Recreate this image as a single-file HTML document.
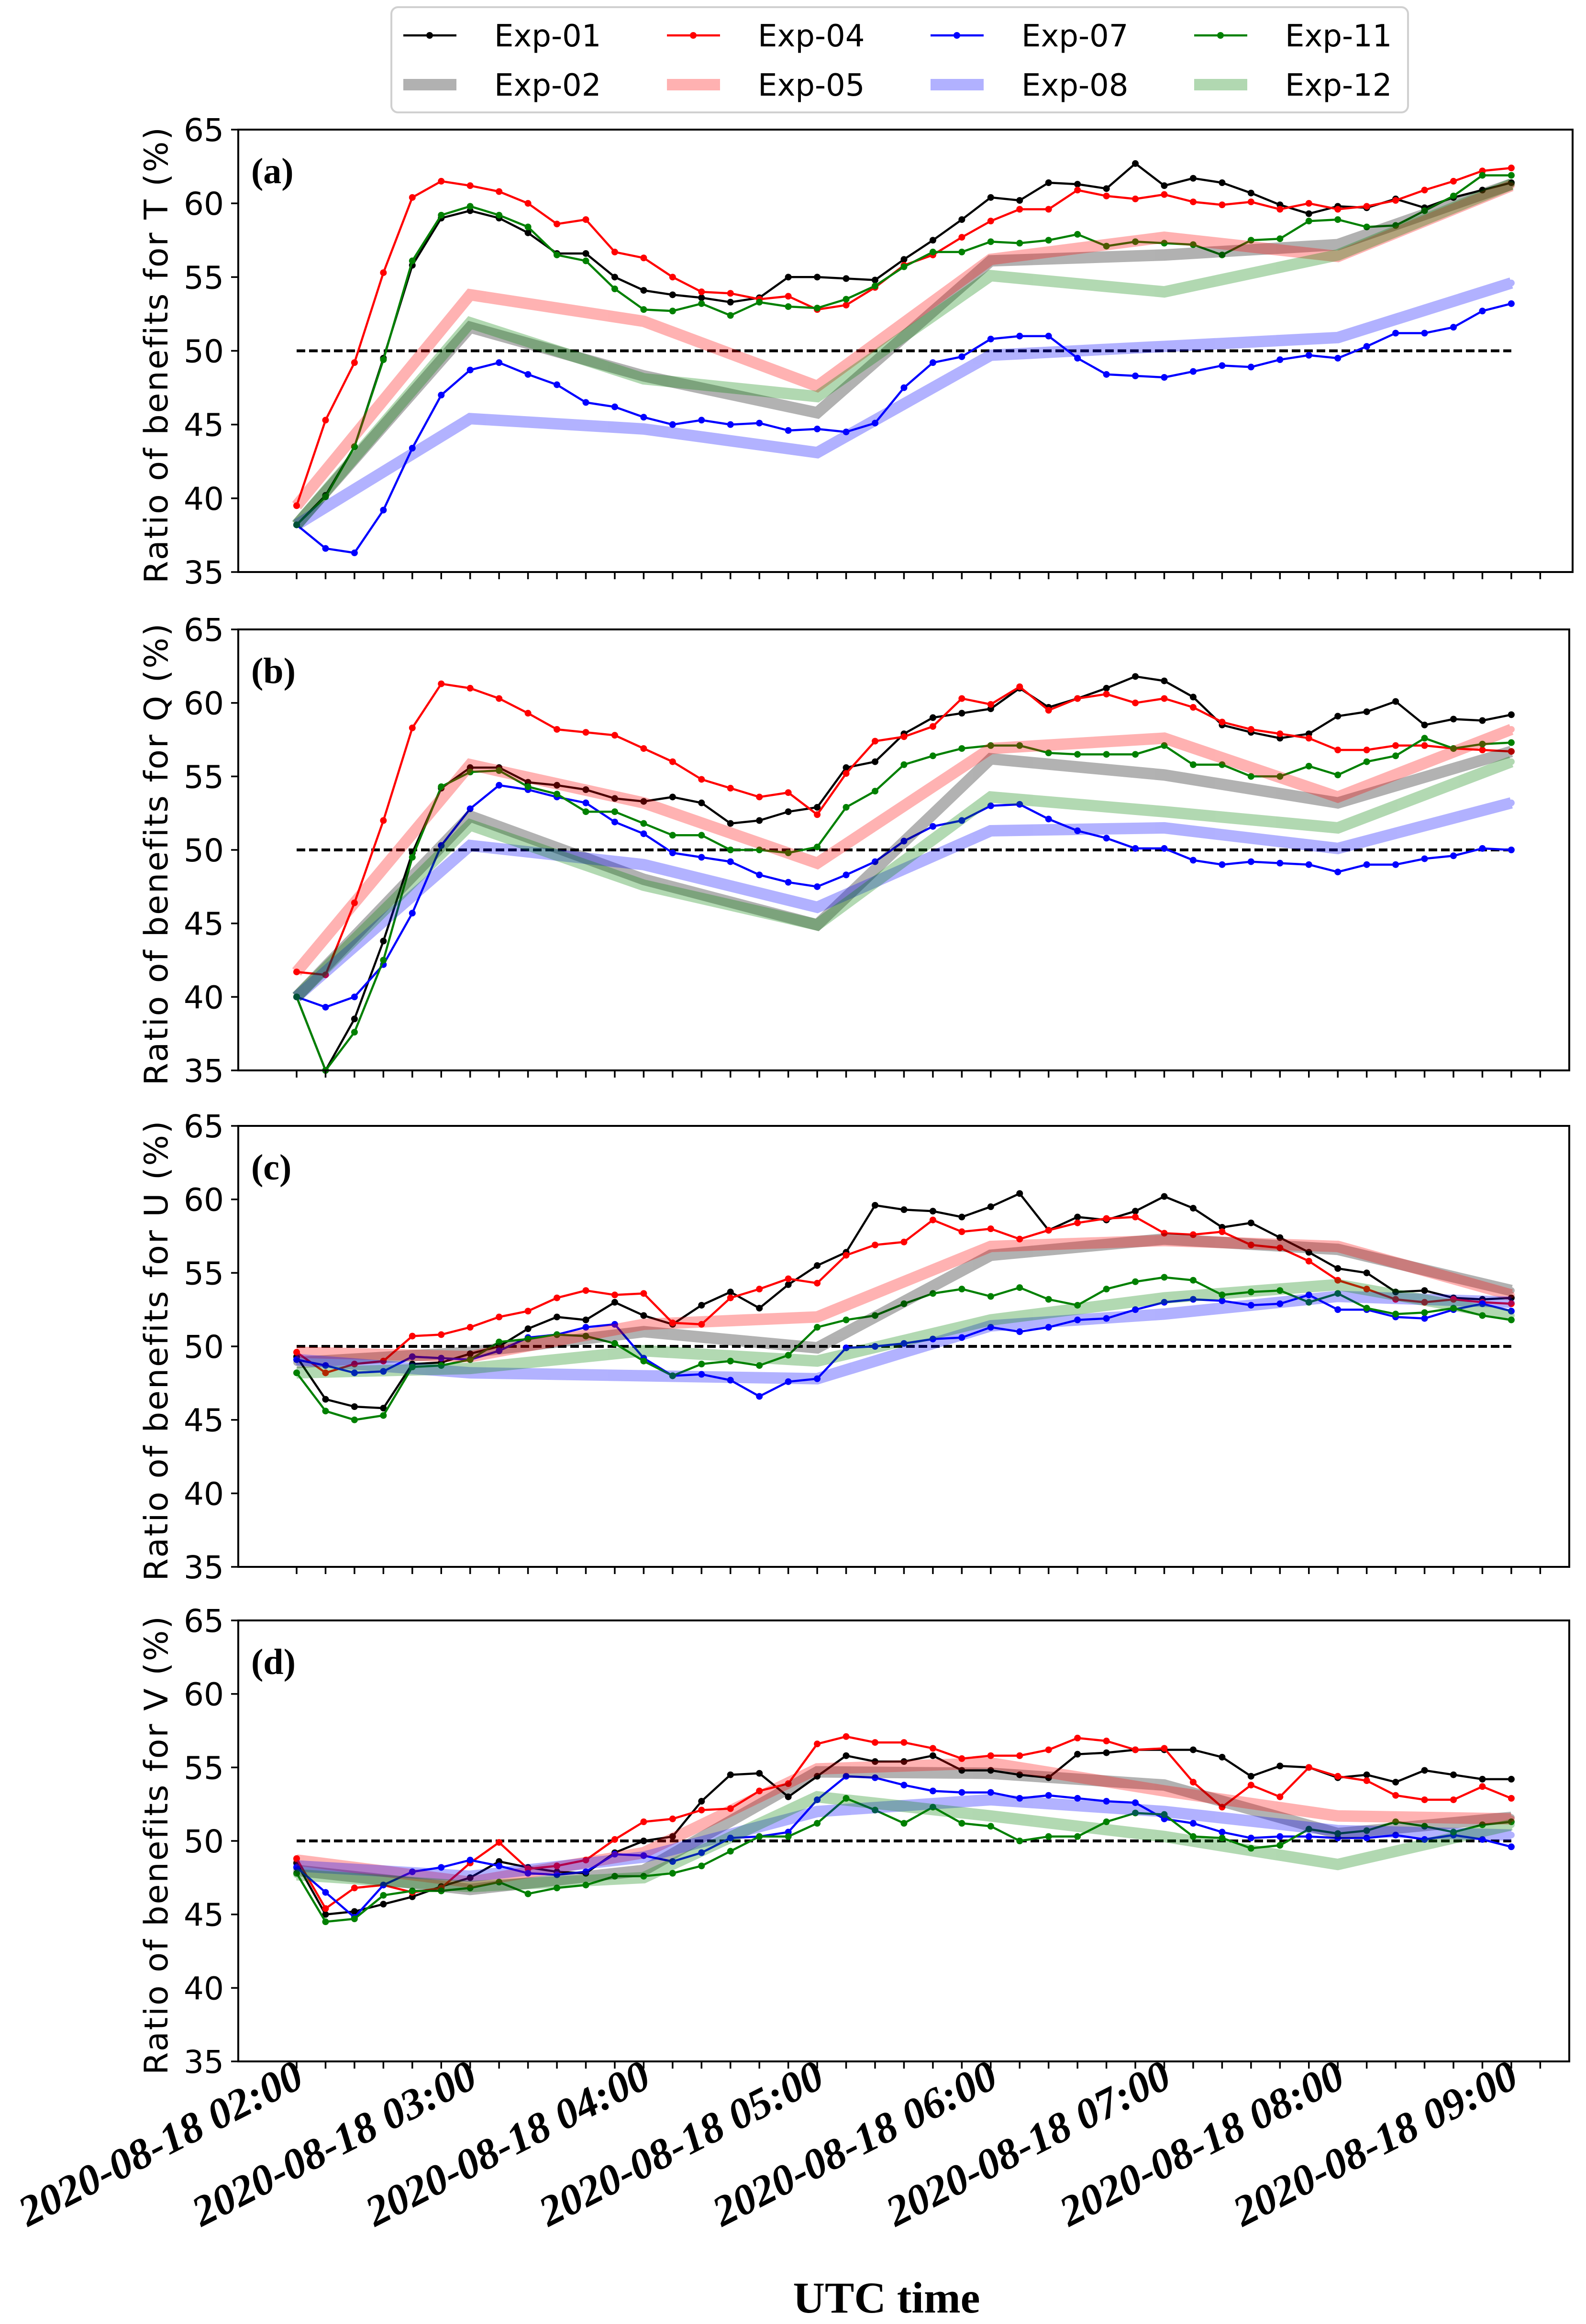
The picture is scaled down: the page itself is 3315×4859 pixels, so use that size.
<!DOCTYPE html>
<html><head><meta charset="utf-8"><style>
html,body{margin:0;padding:0;background:#fff;}
svg{display:block;}
</style></head><body>
<svg id="chart" xmlns="http://www.w3.org/2000/svg" width="3315" height="4859" viewBox="0 0 3315 4859">
<rect x="0" y="0" width="3315" height="4859" fill="#fff"/>
<g id="legend"></g>
<g id="plots"></g>
<text x="1853" y="4835" text-anchor="middle" font-family="Liberation Serif, serif" font-weight="bold" font-size="92">UTC time</text>
</svg>
<script>
// ---- data ----
const hourLabels = ["2020-08-18 02:00","2020-08-18 03:00","2020-08-18 04:00","2020-08-18 05:00","2020-08-18 06:00","2020-08-18 07:00","2020-08-18 08:00","2020-08-18 09:00"];
const yTicks = [35,40,45,50,55,60,65];
const panelLetters = ["(a)","(b)","(c)","(d)"];
const panelVars = ["T","Q","U","V"];

const exp01_T = [38.2,40.2,43.5,49.5,55.8,59.0,59.5,59.0,58.0,56.6,56.6,55.0,54.1,53.8,53.6,53.3,53.6,55.0,55.0,54.9,54.8,56.2,57.5,58.9,60.4,60.2,61.4,61.3,61.0,62.7,61.2,61.7,61.4,60.7,59.9,59.3,59.8,59.7,60.3,59.7,60.4,60.9,61.4];
const exp04_T = [39.5,45.3,49.2,55.3,60.4,61.5,61.2,60.8,60.0,58.6,58.9,56.7,56.3,55.0,54.0,53.9,53.5,53.7,52.8,53.1,54.3,55.8,56.5,57.7,58.8,59.6,59.6,60.9,60.5,60.3,60.6,60.1,59.9,60.1,59.6,60.0,59.6,59.8,60.2,60.9,61.5,62.2,62.4];
const exp07_T = [38.2,36.6,36.3,39.2,43.4,47.0,48.7,49.2,48.4,47.7,46.5,46.2,45.5,45.0,45.3,45.0,45.1,44.6,44.7,44.5,45.1,47.5,49.2,49.6,50.8,51.0,51.0,49.5,48.4,48.3,48.2,48.6,49.0,48.9,49.4,49.7,49.5,50.3,51.2,51.2,51.6,52.7,53.2];
const exp11_T = [38.2,40.1,43.5,49.4,56.1,59.2,59.8,59.2,58.4,56.5,56.1,54.2,52.8,52.7,53.2,52.4,53.3,53.0,52.9,53.5,54.4,55.7,56.7,56.7,57.4,57.3,57.5,57.9,57.1,57.4,57.3,57.2,56.5,57.5,57.6,58.8,58.9,58.4,58.5,59.5,60.5,61.9,61.9];
const exp02_T = [38.2,51.6,48.3,45.8,56.1,56.5,57.2,61.3];
const exp05_T = [39.5,53.8,52.0,47.6,56.2,57.7,56.4,61.2];
const exp08_T = [38.2,45.4,44.7,43.1,49.7,50.3,50.9,54.6];
const exp12_T = [38.2,51.9,48.1,46.9,55.1,54.0,56.5,61.3];

const exp01_Q = [40.0,35.0,38.5,43.8,49.8,54.2,55.6,55.6,54.6,54.4,54.1,53.5,53.3,53.6,53.2,51.8,52.0,52.6,52.9,55.6,56.0,57.9,59.0,59.3,59.6,61.0,59.7,60.3,61.0,61.8,61.5,60.4,58.5,58.0,57.6,57.9,59.1,59.4,60.1,58.5,58.9,58.8,59.2];
const exp04_Q = [41.7,41.5,46.4,52.0,58.3,61.3,61.0,60.3,59.3,58.2,58.0,57.8,56.9,56.0,54.8,54.2,53.6,53.9,52.4,55.2,57.4,57.7,58.4,60.3,59.9,61.1,59.5,60.3,60.6,60.0,60.3,59.7,58.7,58.2,57.9,57.6,56.8,56.8,57.1,57.1,56.9,56.8,56.7];
const exp07_Q = [40.0,39.3,40.0,42.2,45.7,50.3,52.8,54.4,54.1,53.6,53.2,51.9,51.1,49.8,49.5,49.2,48.3,47.8,47.5,48.3,49.2,50.6,51.6,52.0,53.0,53.1,52.1,51.3,50.8,50.1,50.1,49.3,49.0,49.2,49.1,49.0,48.5,49.0,49.0,49.4,49.6,50.1,50.0];
const exp11_Q = [40.0,35.0,37.6,42.5,49.5,54.3,55.3,55.4,54.3,53.8,52.6,52.6,51.8,51.0,51.0,50.0,50.0,49.8,50.2,52.9,54.0,55.8,56.4,56.9,57.1,57.1,56.6,56.5,56.5,56.5,57.1,55.8,55.8,55.0,55.0,55.7,55.1,56.0,56.4,57.6,56.9,57.2,57.3];
const exp02_Q = [40.0,52.3,48.0,44.9,56.2,55.1,53.2,56.7];
const exp05_Q = [41.7,55.8,53.2,49.1,56.9,57.6,53.6,58.2];
const exp08_Q = [40.0,50.3,49.0,46.1,51.3,51.5,50.1,53.2];
const exp12_Q = [40.0,51.7,47.6,44.9,53.6,52.6,51.5,56.0];

const exp01_U = [49.3,46.4,45.9,45.8,48.8,48.9,49.5,50.0,51.2,52.0,51.8,53.0,52.1,51.5,52.8,53.7,52.6,54.2,55.5,56.4,59.6,59.3,59.2,58.8,59.5,60.4,57.9,58.8,58.6,59.2,60.2,59.4,58.1,58.4,57.4,56.4,55.3,55.0,53.7,53.8,53.3,53.2,53.3];
const exp04_U = [49.6,48.2,48.8,49.0,50.7,50.8,51.3,52.0,52.4,53.3,53.8,53.5,53.6,51.6,51.5,53.3,53.9,54.6,54.3,56.2,56.9,57.1,58.6,57.8,58.0,57.3,57.9,58.4,58.7,58.8,57.7,57.6,57.8,56.9,56.7,55.8,54.5,53.9,53.2,53.0,53.2,53.0,52.9];
const exp07_U = [49.1,48.7,48.2,48.3,49.3,49.2,49.1,49.7,50.6,50.8,51.3,51.5,49.2,48.0,48.1,47.7,46.6,47.6,47.8,49.9,50.0,50.2,50.5,50.6,51.3,51.0,51.3,51.8,51.9,52.5,53.0,53.2,53.1,52.8,52.9,53.5,52.5,52.5,52.0,51.9,52.5,52.9,52.4];
const exp11_U = [48.2,45.6,45.0,45.3,48.6,48.7,49.1,50.3,50.5,50.8,50.7,50.2,49.0,48.0,48.8,49.0,48.7,49.4,51.3,51.8,52.1,52.9,53.6,53.9,53.4,54.0,53.2,52.8,53.9,54.4,54.7,54.5,53.5,53.7,53.8,53.0,53.6,52.6,52.2,52.3,52.6,52.1,51.8];
const exp02_U = [48.9,49.6,51.0,49.9,56.2,57.3,56.6,53.8];
const exp05_U = [49.6,49.3,51.5,52.0,56.8,57.2,56.8,53.5];
const exp08_U = [49.1,48.2,48.0,47.8,51.4,52.2,53.4,53.0];
const exp12_U = [48.2,48.5,49.7,49.0,51.8,53.3,54.2,52.1];

const exp01_V = [48.5,45.0,45.2,45.7,46.2,46.9,47.5,48.6,48.2,47.9,47.8,49.2,50.0,50.3,52.7,54.5,54.6,53.0,54.4,55.8,55.4,55.4,55.8,54.8,54.8,54.5,54.3,55.9,56.0,56.2,56.2,56.2,55.7,54.4,55.1,55.0,54.3,54.5,54.0,54.8,54.5,54.2,54.2];
const exp04_V = [48.8,45.4,46.8,47.0,46.5,46.8,48.5,49.9,48.1,48.3,48.7,50.1,51.3,51.5,52.1,52.2,53.4,53.9,56.6,57.1,56.7,56.7,56.3,55.6,55.8,55.8,56.2,57.0,56.8,56.2,56.3,54.0,52.3,53.8,53.0,55.0,54.4,54.1,53.1,52.8,52.8,53.7,52.9];
const exp07_V = [48.2,46.5,44.8,47.0,47.9,48.2,48.7,48.3,47.8,47.7,47.9,49.1,49.0,48.6,49.2,50.2,50.3,50.6,52.8,54.4,54.3,53.8,53.4,53.3,53.3,52.9,53.1,52.9,52.7,52.6,51.5,51.2,50.6,50.2,50.3,50.3,50.2,50.2,50.4,50.1,50.4,50.1,49.6];
const exp11_V = [47.8,44.5,44.7,46.3,46.6,46.6,46.8,47.2,46.4,46.8,47.0,47.6,47.6,47.8,48.3,49.3,50.3,50.3,51.2,52.9,52.1,51.2,52.3,51.2,51.0,50.0,50.3,50.3,51.3,51.9,51.8,50.3,50.2,49.5,49.7,50.8,50.5,50.7,51.3,51.0,50.6,51.1,51.3];
const exp02_V = [48.0,46.7,48.0,54.7,54.6,53.8,50.5,51.6];
const exp05_V = [48.7,47.2,49.2,54.9,55.3,53.4,51.7,51.5];
const exp08_V = [48.3,47.6,48.9,52.0,52.8,52.0,50.7,50.4];
const exp12_V = [47.7,46.9,47.5,53.0,51.7,50.3,48.4,51.1];

// ---- layout ----
const NS = "http://www.w3.org/2000/svg";
const panels = [
  {top:271, bottom:1196, left:498, right:3287},
  {top:1316, bottom:2238, left:498, right:3280},
  {top:2354, bottom:3276, left:498, right:3280},
  {top:3388, bottom:4310, left:498, right:3280}
];
const X0 = 620, PER10 = 60.45;
function xScale(minutes){ return X0 + minutes/10*PER10; }
function mk(tag, attrs, parent){ const e=document.createElementNS(NS,tag); for(const k in attrs) e.setAttribute(k,attrs[k]); parent.appendChild(e); return e; }

const thinSeries = [
  {name:"exp-01", color:"#000000", data:[exp01_T,exp01_Q,exp01_U,exp01_V]},
  {name:"exp-04", color:"#ff0000", data:[exp04_T,exp04_Q,exp04_U,exp04_V]},
  {name:"exp-07", color:"#0000ff", data:[exp07_T,exp07_Q,exp07_U,exp07_V]},
  {name:"exp-11", color:"#008000", data:[exp11_T,exp11_Q,exp11_U,exp11_V]}
];
const thickSeries = [
  {name:"exp-02", color:"#000000", op:0.3, data:[exp02_T,exp02_Q,exp02_U,exp02_V]},
  {name:"exp-05", color:"#ff0000", op:0.3, data:[exp05_T,exp05_Q,exp05_U,exp05_V]},
  {name:"exp-08", color:"#0000ff", op:0.3, data:[exp08_T,exp08_Q,exp08_U,exp08_V]},
  {name:"exp-12", color:"#008000", op:0.3, data:[exp12_T,exp12_Q,exp12_U,exp12_V]}
];

const plots = document.getElementById('plots');
panels.forEach((p,pi)=>{
  const g = mk('g',{},plots);
  
  
  const yS = v => p.bottom - (v-35)/30*(p.bottom-p.top);
  const dl = mk('line',{x1:xScale(0),x2:xScale(420),y1:yS(50),y2:yS(50),stroke:'#000','stroke-width':6,'stroke-dasharray':'18,8'},g);
  
  
  thinSeries.forEach(s=>{
    const vals = s.data[pi];
    const pts = vals.map((v,i)=>xScale(i*10).toFixed(1)+','+yS(v).toFixed(1)).join(' ');
    const sg = mk('g',{},g);
    
    
    mk('polyline',{points:pts,fill:'none',stroke:s.color,'stroke-width':4.5,'stroke-linejoin':'round'},sg);
    vals.forEach((v,i)=>{
      const c = mk('circle',{cx:xScale(i*10),cy:yS(v),r:7,fill:s.color},sg);
      
      
    });
  });
  thickSeries.forEach(s=>{
    const vals = s.data[pi];
    const pts = vals.map((v,i)=>xScale(i*60).toFixed(1)+','+yS(v).toFixed(1)).join(' ');
    const sg = mk('g',{opacity:s.op},g);
    
    
    mk('polyline',{points:pts,fill:'none',stroke:s.color,'stroke-width':24,'stroke-linejoin':'miter'},sg);
    vals.forEach((v,i)=>{
      const c = mk('circle',{cx:xScale(i*60),cy:yS(v),r:7,fill:s.color},sg);
      
      
    });
  });
  const fr = mk('rect',{x:p.left,y:p.top,width:p.right-p.left,height:p.bottom-p.top,fill:'none',stroke:'#000','stroke-width':4},g);
  
  
  yTicks.forEach(t=>{
    mk('line',{x1:p.left-15,x2:p.left,y1:yS(t),y2:yS(t),stroke:'#000','stroke-width':3.5},g);
    const tx = mk('text',{x:p.left-30,y:yS(t)+24,'text-anchor':'end','font-family':'DejaVu Sans, sans-serif','font-size':66},g);
    tx.textContent = t;
    
    
  });
  for(let k=0;k<=43;k++){
    mk('line',{x1:xScale(k*10),x2:xScale(k*10),y1:p.bottom,y2:p.bottom+15,stroke:'#000','stroke-width':3.5},g);
  }
  const cy = (p.top+p.bottom)/2 + 8;
  const yl = mk('text',{x:0,y:0,transform:`translate(350,${cy}) rotate(-90)`,'text-anchor':'middle','font-family':'DejaVu Sans, sans-serif','font-size':68,'letter-spacing':'3'},g);
  yl.textContent = 'Ratio of benefits for '+panelVars[pi]+' (%)';
  
  
  const pl = mk('text',{x:525,y:p.top+112,'font-family':'Liberation Serif, serif','font-weight':'bold','font-size':76},g);
  pl.textContent = panelLetters[pi];
  
  
});
const pb = panels[3];
hourLabels.forEach((lab,i)=>{
  const x = xScale(i*60)+20, y = pb.bottom+50;
  const t = mk('text',{transform:`translate(${x},${y}) rotate(-27)`,'text-anchor':'end','font-family':'Liberation Serif, serif','font-weight':'bold','font-style':'italic','font-size':90},plots);
  t.textContent = lab;
  
  
});
const lg = document.getElementById('legend');
mk('rect',{x:818,y:15,width:2125,height:220,rx:14,fill:'#fff',stroke:'#d0d0d0','stroke-width':4},lg);
const legendItems = [
  ["Exp-01","#000",1,false],["Exp-04","#f00",1,false],["Exp-07","#00f",1,false],["Exp-11","#008000",1,false],
  ["Exp-02","#000",0.3,true],["Exp-05","#f00",0.3,true],["Exp-08","#00f",0.3,true],["Exp-12","#008000",0.3,true]
];
legendItems.forEach((it,i)=>{
  const col=i%4,row=Math.floor(i/4);
  const x=843+col*551, y=74+row*103;
  const eg = mk('g',{},lg);
  
  
  const sg = mk('g',{opacity:it[2]},eg);
  mk('line',{x1:x,x2:x+111,y1:y,y2:y,stroke:it[1],'stroke-width':it[3]?24:4.5},sg);
  mk('circle',{cx:x+55,cy:y,r:7,fill:it[1]},sg);
  const t = mk('text',{x:x+190,y:y+23,'font-family':'DejaVu Sans, sans-serif','font-size':64},eg);
  t.textContent = it[0];
});
</script>
</body></html>
